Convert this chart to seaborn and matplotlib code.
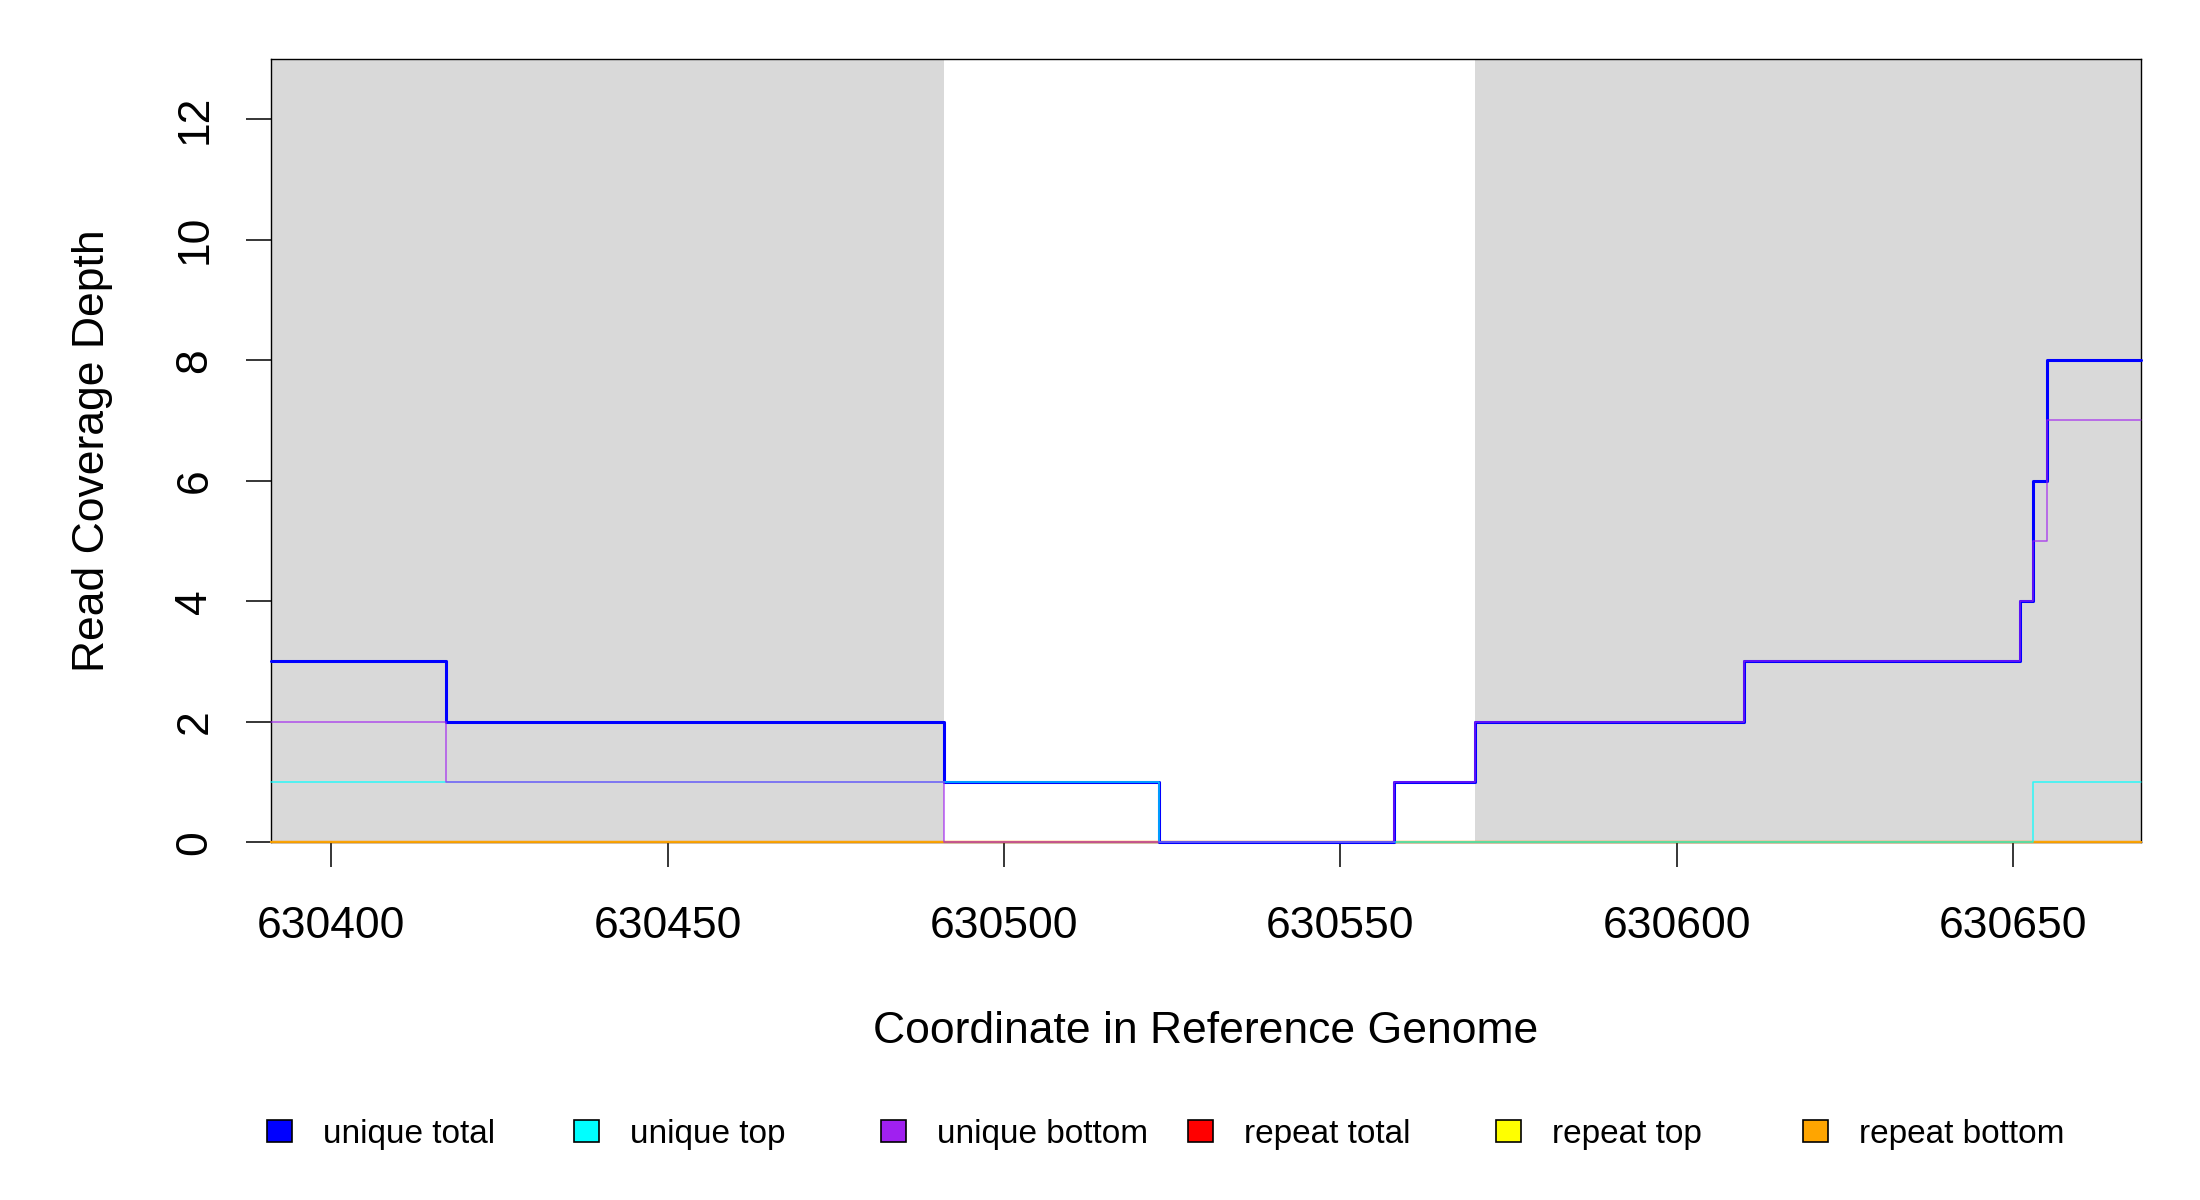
import matplotlib
matplotlib.use("Agg")
import matplotlib.pyplot as plt
from matplotlib.patches import Patch
import seaborn as sns
import pandas as pd

# ---- data ----
positions = [630391, 630417, 630491, 630523, 630558, 630570, 630610, 630651, 630653, 630655, 630669]
unique_total = [3, 2, 1, 0, 1, 2, 3, 4, 6, 8, 8]
unique_top = [1, 1, 1, 0, 0, 0, 0, 0, 1, 1, 1]
unique_bottom = [2, 1, 0, 0, 1, 2, 3, 4, 5, 7, 7]
repeat_total = [0, 0, 0, 0, 0, 0, 0, 0, 0, 0, 0]
repeat_top = [0, 0, 0, 0, 0, 0, 0, 0, 0, 0, 0]
repeat_bottom = [0, 0, 0, 0, 0, 0, 0, 0, 0, 0, 0]
shaded_regions = [(630391, 630491), (630570, 630669)]
x_ticks = [630400, 630450, 630500, 630550, 630600, 630650]
y_ticks = [0, 2, 4, 6, 8, 10, 12]
series_names = ["unique total", "unique top", "unique bottom",
                "repeat total", "repeat top", "repeat bottom"]
series_colors = ["#0000FF", "#00FFFF", "#A020F0", "#FF0000", "#FFFF00", "#FFA500"]

sns.set_style("white")
plt.rcParams["font.family"] = ["Liberation Sans", "DejaVu Sans"]
plt.rcParams["text.color"] = "black"
plt.rcParams["axes.labelcolor"] = "black"
plt.rcParams["xtick.color"] = "black"
plt.rcParams["ytick.color"] = "black"

fig = plt.figure(figsize=(22, 12), dpi=100)
ax = fig.add_axes([0.1231, 0.2982, 0.8501, 0.6526])

for lo, hi in shaded_regions:
    ax.axvspan(lo, hi, color="#D9D9D9", lw=0, zorder=0)

df = pd.DataFrame({
    "pos": positions,
    "unique total": unique_total,
    "unique top": unique_top,
    "unique bottom": unique_bottom,
    "repeat total": repeat_total,
    "repeat top": repeat_top,
    "repeat bottom": repeat_bottom,
})

widths = [2.2, 1.1, 1.1, 1.6, 1.6, 1.6]
alphas = [1.0, 0.8, 0.75, 0.6, 0.5, 0.8]
order = [3, 4, 5, 0, 1, 2]
for z, i in enumerate(order):
    name = series_names[i]
    sns.lineplot(data=df, x="pos", y=name, ax=ax, color=series_colors[i],
                 linewidth=widths[i], alpha=alphas[i], drawstyle="steps-post",
                 estimator=None, sort=False, clip_on=False, zorder=3 + z)

ax.set_xlim(positions[0], positions[-1])
ax.set_ylim(0, 13)
ax.set_xticks(x_ticks)
ax.set_xticklabels([str(t) for t in x_ticks])
ax.set_yticks(y_ticks)
ax.set_yticklabels([str(t) for t in y_ticks], rotation=90, va="center")

for s in ax.spines.values():
    s.set_color("black")
    s.set_linewidth(1.0)
    s.set_visible(True)

ax.tick_params(axis="both", which="major", direction="out", length=18, width=1.1,
               color="black", labelcolor="black", labelsize=32, bottom=True, left=True)
ax.tick_params(axis="x", pad=28)
ax.tick_params(axis="y", pad=22)

ax.set_xlabel("Coordinate in Reference Genome", fontsize=32)
ax.set_ylabel("Read Coverage Depth", fontsize=32)
ax.xaxis.set_label_coords(0.5, -0.242)
ax.xaxis.label.set_va("center")
ax.yaxis.set_label_coords(-0.0955, 0.5)
ax.yaxis.label.set_va("center")

leg_x = [0.1212, 0.2608, 0.4005, 0.5402, 0.6798, 0.8195]
for i, name in enumerate(series_names):
    h = Patch(facecolor=series_colors[i], edgecolor="black", linewidth=1.2)
    fig.legend(handles=[h], labels=[name], loc="center left",
               bbox_to_anchor=(leg_x[i], 0.0550), frameon=False, fontsize=24,
               handlelength=0.75, handleheight=0.62, handletextpad=0.93,
               borderpad=0, borderaxespad=0)

fig.savefig("out.png", dpi=100)
